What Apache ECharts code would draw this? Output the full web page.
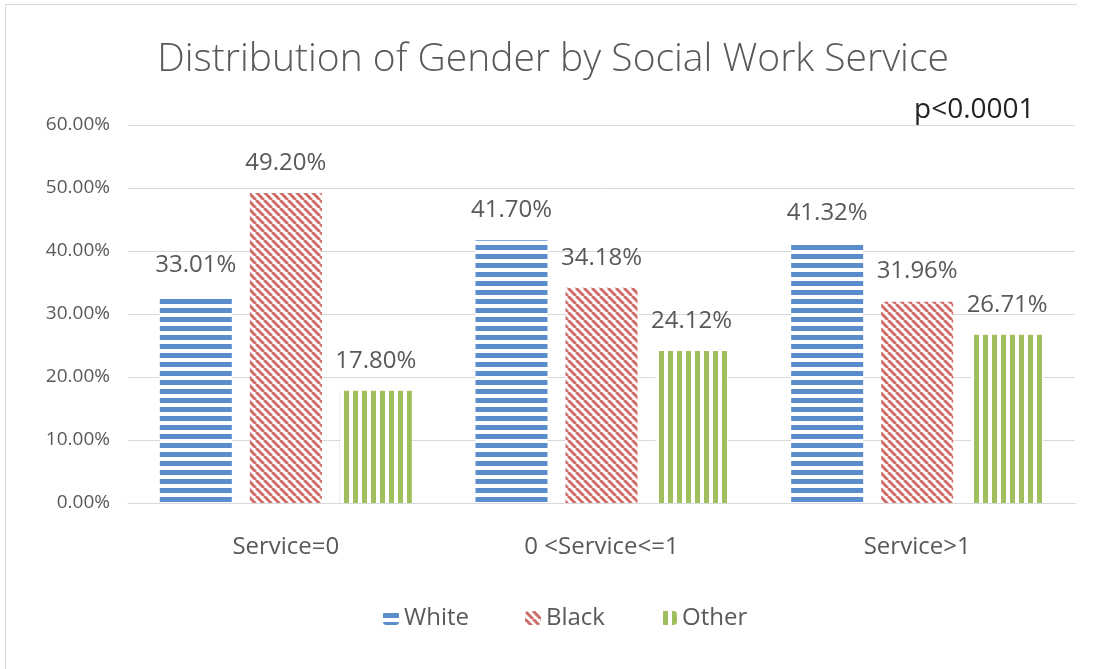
<!DOCTYPE html>
<html>
<head>
<meta charset="utf-8">
<script src="https://cdn.jsdelivr.net/npm/echarts@6/dist/echarts.min.js"></script>
<style>
  html, body { margin: 0; padding: 0; background: #fff; }
  #chart { width: 1097px; height: 669px; }
</style>
</head>
<body>
<div id="chart"></div>
<script>
// Chart data
const categories = ['Service=0', '0 <Service<=1', 'Service>1'];
const seriesNames = ['White', 'Black', 'Other'];
const whiteValues = [33.01, 41.70, 41.32];
const blackValues = [49.20, 34.18, 31.96];
const otherValues = [17.80, 24.12, 26.71];
const yTicks = [0, 10, 20, 30, 40, 50, 60];

const FONT = '"Open Sans", sans-serif';
const TEXT = '#595959';

// Striped fills built on small tiles
function hStripes(color) {
  const c = document.createElement('canvas');
  c.width = 9; c.height = 9;
  const g = c.getContext('2d');
  g.fillStyle = '#fff'; g.fillRect(0, 0, 9, 9);
  g.fillStyle = color; g.fillRect(0, 2, 9, 5);
  return c;
}
function vStripes(color) {
  const c = document.createElement('canvas');
  c.width = 9; c.height = 9;
  const g = c.getContext('2d');
  g.fillStyle = '#fff'; g.fillRect(0, 0, 9, 9);
  g.fillStyle = color; g.fillRect(2, 0, 5, 9);
  return c;
}
function dStripes(color) {
  const s = 8;
  const c = document.createElement('canvas');
  c.width = s; c.height = s;
  const g = c.getContext('2d');
  g.fillStyle = '#fff'; g.fillRect(0, 0, s, s);
  g.strokeStyle = color; g.lineWidth = 3;
  for (const o of [-s, 0, s]) {
    g.beginPath(); g.moveTo(o, 0); g.lineTo(o + s, s); g.stroke();
  }
  return c;
}

const fills = [
  { image: hStripes('#5b8ccb'), repeat: 'repeat' },
  { image: dStripes('#cf6b69'), repeat: 'repeat' },
  { image: vStripes('#9fbf5d'), repeat: 'repeat' }
];
const valueSets = [whiteValues, blackValues, otherValues];

const chart = echarts.init(document.getElementById('chart'), null, { renderer: 'canvas' });

chart.setOption({
  animation: false,
  backgroundColor: '#fff',
  title: {
    text: 'Distribution of Gender by Social Work Service',
    left: 548, top: 35, textAlign: 'center',
    textStyle: { fontFamily: FONT, fontWeight: 300, fontSize: 39, color: TEXT }
  },
  graphic: [
    { type: 'line', shape: { x1: 5, y1: 4.5, x2: 1077, y2: 4.5 }, style: { stroke: '#d9d9d9', lineWidth: 1 } },
    { type: 'line', shape: { x1: 5.5, y1: 4, x2: 5.5, y2: 669 }, style: { stroke: '#d9d9d9', lineWidth: 1 } },
    { type: 'text', left: 914, top: 96,
      style: { text: 'p<0.0001', font: '28px "Open Sans", sans-serif', fill: '#222' } }
  ],
  legend: {
    data: seriesNames,
    bottom: 34, left: 378,
    itemWidth: 16, itemHeight: 14, itemGap: 56,
    textStyle: { fontFamily: FONT, fontSize: 24, color: TEXT }
  },
  grid: { left: 128, right: 22, top: 125, bottom: 166 },
  xAxis: {
    type: 'category',
    data: categories,
    axisLine: { lineStyle: { color: '#d9d9d9' } },
    axisTick: { show: false },
    axisLabel: { fontFamily: FONT, fontSize: 24, color: TEXT, margin: 32 }
  },
  yAxis: {
    type: 'value',
    min: yTicks[0], max: yTicks[yTicks.length - 1], interval: 10,
    axisLine: { show: false },
    axisTick: { show: false },
    splitLine: { lineStyle: { color: '#d9d9d9' } },
    axisLabel: {
      fontFamily: FONT, fontSize: 19, color: TEXT, margin: 18,
      formatter: v => v.toFixed(2) + '%'
    }
  },
  series: seriesNames.map((name, i) => ({
    name,
    type: 'bar',
    data: valueSets[i],
    barWidth: 72,
    barGap: '25%',
    itemStyle: { color: fills[i] },
    label: {
      show: true, position: 'top', distance: 18,
      fontFamily: FONT, fontSize: 24, color: TEXT,
      formatter: p => p.value.toFixed(2) + '%'
    }
  }))
});
</script>
</body>
</html>
